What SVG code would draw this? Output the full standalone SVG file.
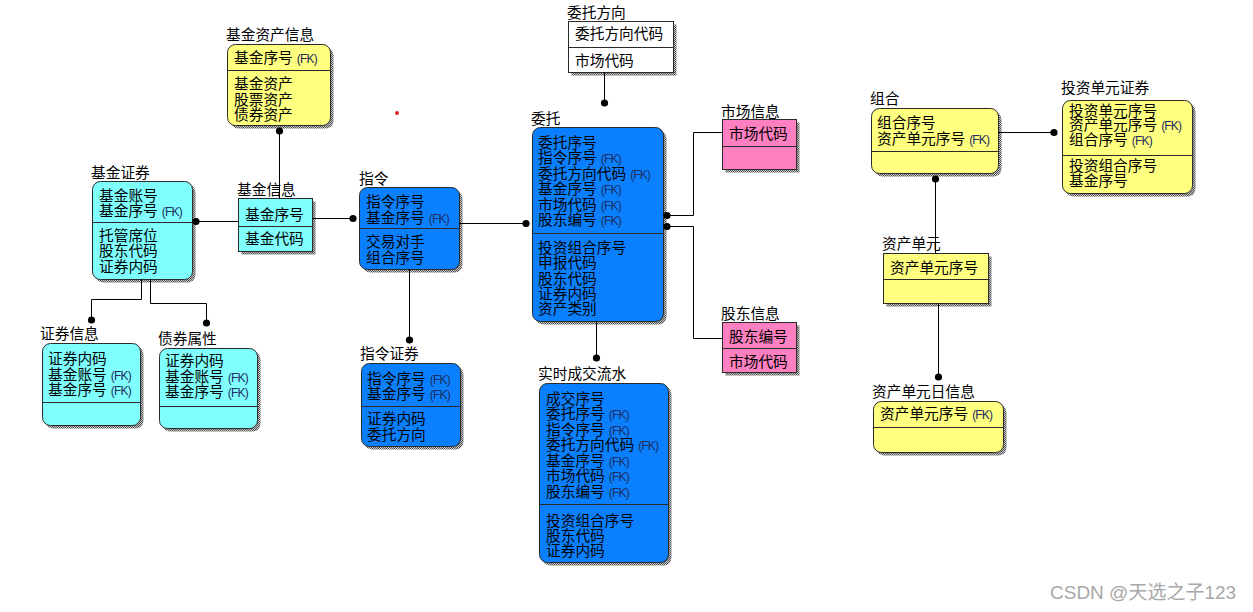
<svg xmlns="http://www.w3.org/2000/svg" width="1253" height="612" viewBox="0 0 1253 612">
<defs>
<pattern id="hatch" width="2" height="2" patternUnits="userSpaceOnUse">
<rect width="2" height="2" fill="#c8c8c8"/>
<rect width="1" height="1" fill="#505050"/>
<rect x="1" y="1" width="1" height="1" fill="#505050"/>
</pattern>
<marker id="dot" markerUnits="userSpaceOnUse" markerWidth="10" markerHeight="10" refX="5" refY="5" viewBox="0 0 10 10">
<circle cx="5" cy="5" r="3.6" fill="#000"/>
</marker>
</defs>
<style>
.shadow{fill:url(#hatch);stroke:none}
.box{stroke:#2a2a2a;stroke-width:1}
.yellow{fill:#ffff80}
.cyan{fill:#80ffff}
.blue{fill:#0a80ff}
.pink{fill:#ff80c0}
.white{fill:#ffffff}
.div{stroke:#2a2a2a;stroke-width:1}
text{font-family:"Noto Sans CJK SC","Liberation Sans",sans-serif;fill:#000}
.t{font-size:14.7px}
.r{font-size:14.7px}
.fk{font-family:"Liberation Sans","DejaVu Sans",sans-serif;font-size:12px;fill:#1e2d5e;letter-spacing:-0.8px}
.conn path,.conn line{stroke:#000;stroke-width:1;fill:none}
.wm{font-family:"Liberation Sans","Noto Sans CJK SC",sans-serif;font-size:19px;fill:#a8a8a8}
</style>

<g id="jijinzichanxinxi">
<rect class="shadow" x="230.5" y="47.5" width="103" height="81" rx="8"/>
<rect class="box yellow" x="227.5" y="44.5" width="103" height="81" rx="8"/>
<line class="div" x1="227.5" y1="70.5" x2="330.5" y2="70.5"/>
<text class="t" x="226" y="40">基金资产信息</text>
<text class="r" x="234" y="63">基金序号<tspan class="fk" dx="4">(FK)</tspan></text>
<text class="r" x="234" y="89">基金资产</text>
<text class="r" x="234" y="104.5">股票资产</text>
<text class="r" x="234" y="120">债券资产</text>
</g>

<g id="jijinxinxi">
<rect class="shadow" x="241.5" y="201.5" width="74" height="53"/>
<rect class="box cyan" x="238.5" y="198.5" width="74" height="53"/>
<line class="div" x1="238.5" y1="226.5" x2="312.5" y2="226.5"/>
<text class="t" x="237" y="195">基金信息</text>
<text class="r" x="245" y="219.5">基金序号</text>
<text class="r" x="245" y="244">基金代码</text>
</g>

<g id="jijinzhengquan">
<rect class="shadow" x="95.5" y="184.5" width="100" height="98" rx="8"/>
<rect class="box cyan" x="92.5" y="181.5" width="100" height="98" rx="8"/>
<line class="div" x1="92.5" y1="222.5" x2="192.5" y2="222.5"/>
<text class="t" x="91" y="178">基金证券</text>
<text class="r" x="99" y="200.5">基金账号</text>
<text class="r" x="99" y="216">基金序号<tspan class="fk" dx="4">(FK)</tspan></text>
<text class="r" x="99" y="240.5">托管席位</text>
<text class="r" x="99" y="256">股东代码</text>
<text class="r" x="99" y="271.5">证券内码</text>
</g>

<g id="zhengquanxinxi">
<rect class="shadow" x="45.5" y="346.5" width="98" height="82" rx="8"/>
<rect class="box cyan" x="42.5" y="343.5" width="98" height="82" rx="8"/>
<line class="div" x1="42.5" y1="402.5" x2="140.5" y2="402.5"/>
<text class="t" x="40" y="339">证券信息</text>
<text class="r" x="48" y="363.5">证券内码</text>
<text class="r" x="48" y="379.5">基金账号<tspan class="fk" dx="4">(FK)</tspan></text>
<text class="r" x="48" y="395">基金序号<tspan class="fk" dx="4">(FK)</tspan></text>
</g>

<g id="zhaiquanshuxing">
<rect class="shadow" x="162.5" y="351.5" width="98" height="80" rx="8"/>
<rect class="box cyan" x="159.5" y="348.5" width="98" height="80" rx="8"/>
<line class="div" x1="159.5" y1="406.5" x2="257.5" y2="406.5"/>
<text class="t" x="158" y="344">债券属性</text>
<text class="r" x="165" y="365.5">证券内码</text>
<text class="r" x="165" y="381.5">基金账号<tspan class="fk" dx="4">(FK)</tspan></text>
<text class="r" x="165" y="397">基金序号<tspan class="fk" dx="4">(FK)</tspan></text>
</g>

<g id="zhiling">
<rect class="shadow" x="362.5" y="190.5" width="100" height="82" rx="8"/>
<rect class="box blue" x="359.5" y="187.5" width="100" height="82" rx="8"/>
<line class="div" x1="359.5" y1="228.5" x2="459.5" y2="228.5"/>
<text class="t" x="359" y="184">指令</text>
<text class="r" x="366" y="207">指令序号</text>
<text class="r" x="366" y="222.5">基金序号<tspan class="fk" dx="4">(FK)</tspan></text>
<text class="r" x="366" y="246.5">交易对手</text>
<text class="r" x="366" y="262.5">组合序号</text>
</g>

<g id="zhilingzhengquan">
<rect class="shadow" x="364.5" y="366.5" width="99" height="83" rx="8"/>
<rect class="box blue" x="361.5" y="363.5" width="99" height="83" rx="8"/>
<line class="div" x1="361.5" y1="406.5" x2="460.5" y2="406.5"/>
<text class="t" x="360" y="359">指令证券</text>
<text class="r" x="367" y="383.5">指令序号<tspan class="fk" dx="4">(FK)</tspan></text>
<text class="r" x="367" y="399">基金序号<tspan class="fk" dx="4">(FK)</tspan></text>
<text class="r" x="367" y="423.5">证券内码</text>
<text class="r" x="367" y="439.5">委托方向</text>
</g>

<g id="weituofangxiang">
<rect class="shadow" x="571.5" y="24.5" width="105" height="51"/>
<rect class="box white" x="568.5" y="21.5" width="105" height="51"/>
<line class="div" x1="568.5" y1="47.5" x2="673.5" y2="47.5"/>
<text class="t" x="567" y="18">委托方向</text>
<text class="r" x="575" y="39">委托方向代码</text>
<text class="r" x="575" y="65.5">市场代码</text>
</g>

<g id="weituo">
<rect class="shadow" x="535.5" y="130.5" width="131" height="194" rx="8"/>
<rect class="box blue" x="532.5" y="127.5" width="131" height="194" rx="8"/>
<line class="div" x1="532.5" y1="233.5" x2="663.5" y2="233.5"/>
<text class="t" x="531" y="124">委托</text>
<text class="r" x="538" y="147.5">委托序号</text>
<text class="r" x="538" y="163">指令序号<tspan class="fk" dx="4">(FK)</tspan></text>
<text class="r" x="538" y="178.5">委托方向代码<tspan class="fk" dx="4">(FK)</tspan></text>
<text class="r" x="538" y="194">基金序号<tspan class="fk" dx="4">(FK)</tspan></text>
<text class="r" x="538" y="209.5">市场代码<tspan class="fk" dx="4">(FK)</tspan></text>
<text class="r" x="538" y="225">股东编号<tspan class="fk" dx="4">(FK)</tspan></text>
<text class="r" x="538" y="252.5">投资组合序号</text>
<text class="r" x="538" y="268">申报代码</text>
<text class="r" x="538" y="283.5">股东代码</text>
<text class="r" x="538" y="299">证券内码</text>
<text class="r" x="538" y="314">资产类别</text>
</g>

<g id="shishichengjiaoliushui">
<rect class="shadow" x="542.5" y="386.5" width="129" height="179" rx="8"/>
<rect class="box blue" x="539.5" y="383.5" width="129" height="179" rx="8"/>
<line class="div" x1="539.5" y1="504.5" x2="668.5" y2="504.5"/>
<text class="t" x="538" y="379">实时成交流水</text>
<text class="r" x="546" y="403.5">成交序号</text>
<text class="r" x="546" y="419">委托序号<tspan class="fk" dx="4">(FK)</tspan></text>
<text class="r" x="546" y="434.5">指令序号<tspan class="fk" dx="4">(FK)</tspan></text>
<text class="r" x="546" y="450">委托方向代码<tspan class="fk" dx="4">(FK)</tspan></text>
<text class="r" x="546" y="465.5">基金序号<tspan class="fk" dx="4">(FK)</tspan></text>
<text class="r" x="546" y="481">市场代码<tspan class="fk" dx="4">(FK)</tspan></text>
<text class="r" x="546" y="496.5">股东编号<tspan class="fk" dx="4">(FK)</tspan></text>
<text class="r" x="546" y="525.5">投资组合序号</text>
<text class="r" x="546" y="541">股东代码</text>
<text class="r" x="546" y="556">证券内码</text>
</g>

<g id="shichangxinxi">
<rect class="shadow" x="725.5" y="122.5" width="74" height="50"/>
<rect class="box pink" x="722.5" y="119.5" width="74" height="50"/>
<line class="div" x1="722.5" y1="146.5" x2="796.5" y2="146.5"/>
<text class="t" x="721" y="116.5">市场信息</text>
<text class="r" x="729" y="138.5">市场代码</text>
</g>

<g id="gudongxinxi">
<rect class="shadow" x="725.5" y="325.5" width="74" height="50"/>
<rect class="box pink" x="722.5" y="322.5" width="74" height="50"/>
<line class="div" x1="722.5" y1="348.5" x2="796.5" y2="348.5"/>
<text class="t" x="721" y="318.5">股东信息</text>
<text class="r" x="729" y="342">股东编号</text>
<text class="r" x="729" y="367">市场代码</text>
</g>

<g id="zuhe">
<rect class="shadow" x="874.5" y="111.5" width="127" height="65" rx="8"/>
<rect class="box yellow" x="871.5" y="108.5" width="127" height="65" rx="8"/>
<line class="div" x1="871.5" y1="151.5" x2="998.5" y2="151.5"/>
<text class="t" x="870" y="104">组合</text>
<text class="r" x="877" y="127.5">组合序号</text>
<text class="r" x="877" y="143.5">资产单元序号<tspan class="fk" dx="4">(FK)</tspan></text>
</g>

<g id="zichandanyuan">
<rect class="shadow" x="886.5" y="256.5" width="105" height="50"/>
<rect class="box yellow" x="883.5" y="253.5" width="105" height="50"/>
<line class="div" x1="883.5" y1="279.5" x2="988.5" y2="279.5"/>
<text class="t" x="882" y="249">资产单元</text>
<text class="r" x="890" y="273">资产单元序号</text>
</g>

<g id="zichandanyuanrixinxi">
<rect class="shadow" x="876.5" y="404.5" width="130" height="51" rx="8"/>
<rect class="box yellow" x="873.5" y="401.5" width="130" height="51" rx="8"/>
<line class="div" x1="873.5" y1="427.5" x2="1003.5" y2="427.5"/>
<text class="t" x="872" y="397">资产单元日信息</text>
<text class="r" x="880" y="418.5">资产单元序号<tspan class="fk" dx="4">(FK)</tspan></text>
</g>

<g id="touzidanyuanzhengquan">
<rect class="shadow" x="1065.5" y="103.5" width="130" height="93" rx="8"/>
<rect class="box yellow" x="1062.5" y="100.5" width="130" height="93" rx="8"/>
<line class="div" x1="1062.5" y1="155.5" x2="1192.5" y2="155.5"/>
<text class="t" x="1061" y="93">投资单元证券</text>
<text class="r" x="1069" y="115.5">投资单元序号</text>
<text class="r" x="1069" y="130">资产单元序号<tspan class="fk" dx="4">(FK)</tspan></text>
<text class="r" x="1069" y="145">组合序号<tspan class="fk" dx="4">(FK)</tspan></text>
<text class="r" x="1069" y="171">投资组合序号</text>
<text class="r" x="1069" y="185.5">基金序号</text>
</g>

<g id="connectors" class="conn">
<line x1="279.5" y1="131" x2="279.5" y2="198" marker-start="url(#dot)"/>
<line x1="196" y1="221.5" x2="238" y2="221.5" marker-start="url(#dot)"/>
<line x1="312" y1="218.5" x2="353" y2="218.5" marker-end="url(#dot)"/>
<line x1="459" y1="223.5" x2="526" y2="223.5" marker-end="url(#dot)"/>
<line x1="409.5" y1="269" x2="409.5" y2="340" marker-end="url(#dot)"/>
<line x1="604.5" y1="72" x2="604.5" y2="103" marker-end="url(#dot)"/>
<path d="M667,215.5 H693.5 V132.5 H722" marker-start="url(#dot)"/>
<path d="M667,226.5 H693.5 V338.5 H722" marker-start="url(#dot)"/>
<line x1="596.5" y1="321" x2="596.5" y2="358" marker-end="url(#dot)"/>
<path d="M141.5,279 V299.5 H91.5 V320" marker-end="url(#dot)"/>
<path d="M150.5,279 V303.5 H206.5 V323" marker-end="url(#dot)"/>
<line x1="998" y1="132.5" x2="1054" y2="132.5" marker-end="url(#dot)"/>
<line x1="935.5" y1="179" x2="935.5" y2="253" marker-start="url(#dot)"/>
<line x1="938.5" y1="303" x2="938.5" y2="377" marker-end="url(#dot)"/>
</g>

<circle cx="397" cy="113" r="2" fill="#e02020"/>
<text class="wm" x="1050" y="599">CSDN @天选之子123</text>
</svg>
